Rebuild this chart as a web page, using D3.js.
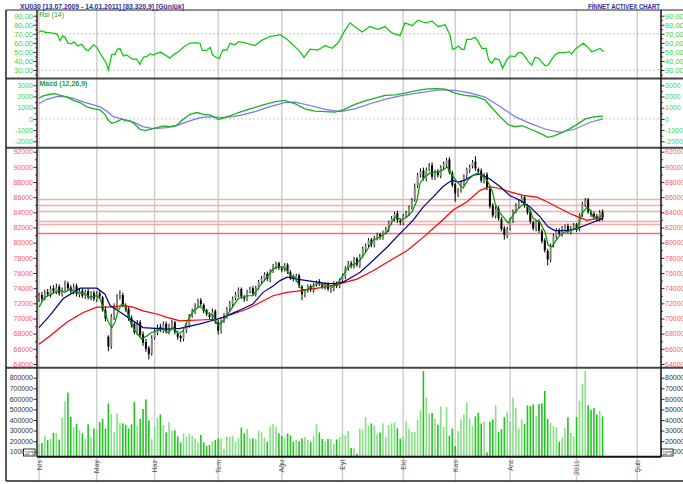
<!DOCTYPE html>
<html>
<head>
<meta charset="utf-8">
<script src="https://cdn.jsdelivr.net/npm/d3@7"></script>
<style>
  body { margin: 0; background: #fff; }
  svg { display: block; font-family: 'Liberation Sans', Arial, sans-serif; }
</style>
</head>
<body>
<div id="chart"></div>
<script>
// month labels and the trading-day index where each month starts
const months = ['Nis', 'May', 'Haz', 'Tem', 'Ağu', 'Eyl', 'Eki', 'Kas', 'Ara', '2011', 'Şub'];
const monthStart = [0, 20, 40, 62, 84, 105, 126, 144, 163, 186, 207];

// daily prices, in thousands
const openP = [
  72.5,73.1,72.7,73.5,73.1,74.0,73.5,74.2,73.2,73.9, 74.6,74.1,73.5,74.3,73.1,73.7,72.9,73.6,72.7,73.4,
  72.5,73.3,72.8,71.1,67.6,66.4,70.1,71.5,72.9,73.1, 71.7,71.3,70.1,69.3,68.1,69.5,67.9,66.9,66.1,65.4,
  67.5,68.1,68.9,68.4,69.3,68.2,68.9,69.5,68.1,67.7, 67.3,68.4,69.1,70.4,70.9,71.7,72.4,71.8,71.1,70.5,
  70.1,71.0,69.5,68.3,69.7,70.3,71.3,71.9,72.7,73.1, 73.9,72.8,72.5,73.6,74.0,73.2,74.1,74.9,75.2,75.9,
  75.1,76.3,76.8,77.3,76.6,76.5,77.1,76.1,75.5,75.1, 75.7,74.2,73.1,73.7,74.3,73.7,74.5,74.9,74.5,74.1,
  74.6,73.8,73.9,74.7,74.2,75.1,75.5,76.7,77.3,76.9, 77.9,77.0,78.3,79.1,79.7,80.4,79.7,80.7,81.1,80.7,
  81.4,81.7,82.7,83.1,83.9,82.9,82.6,83.6,83.8,84.7, 85.7,87.5,89.0,89.5,88.4,89.7,90.2,88.6,89.4,88.8,
  90.0,90.3,91.0,89.2,87.7,86.4,86.9,87.8,88.8,89.5, 90.1,90.7,89.7,89.5,88.1,89.0,87.1,84.9,83.5,84.5,
  83.1,81.9,80.9,81.9,82.9,84.2,84.8,85.5,86.0,84.8, 84.1,82.7,81.8,82.8,81.5,80.3,78.9,77.7,79.7,80.8,
  81.7,81.1,82.0,82.2,81.4,82.0,82.4,81.8,83.7,85.0, 85.7,84.0,83.8,83.5,83.0,84.1
];
const highP = [
  73.4,73.5,73.8,73.9,74.3,74.4,74.6,74.5,74.1,75.0, 74.9,74.4,74.6,74.6,73.9,74.0,73.8,73.9,73.6,73.7,
  73.6,73.6,73.0,71.6,67.8,70.6,72.0,73.2,73.7,73.4, 72.0,71.5,70.4,69.6,69.8,69.8,68.3,67.3,66.4,67.8,
  68.6,69.2,69.3,69.6,69.6,69.3,69.8,69.7,68.4,67.9, 68.7,69.5,70.6,71.3,72.0,72.6,72.7,72.0,71.3,70.8,
  71.3,71.2,69.8,69.9,70.7,71.5,72.3,72.9,73.5,74.1, 74.1,73.1,73.8,74.2,74.3,74.3,75.1,75.6,76.1,76.2,
  76.5,77.2,77.5,77.5,76.9,77.3,77.3,76.4,75.8,75.9, 75.9,74.4,73.9,74.5,74.5,74.7,75.0,75.2,74.8,74.8,
  74.8,74.1,74.9,74.9,75.3,75.9,76.9,77.6,77.6,78.1, 78.1,78.5,79.5,79.9,80.6,80.6,80.9,81.3,81.3,81.6,
  82.1,82.9,83.5,84.1,84.2,83.2,83.8,84.2,84.9,85.9, 87.8,89.2,89.8,89.9,89.9,90.5,90.6,89.6,89.7,90.2,
  90.7,91.2,91.3,89.5,87.9,87.2,88.2,89.0,89.9,90.3, 90.9,91.4,89.9,89.8,89.2,89.3,87.4,85.2,84.8,84.8,
  83.4,82.2,82.1,83.3,84.4,85.2,85.7,86.2,86.3,85.1, 84.4,82.9,83.0,83.1,81.8,80.6,79.2,79.9,81.2,81.9,
  81.9,82.2,82.4,82.5,82.2,82.6,82.6,83.9,85.4,85.9, 85.9,84.3,84.1,83.8,84.3,84.4
];
const lowP = [
  72.2,72.3,72.4,72.9,72.8,73.3,73.2,73.0,72.9,73.6, 73.7,73.3,73.2,72.9,72.8,72.7,72.6,72.5,72.4,72.3,
  72.2,72.6,70.9,69.6,65.7,66.0,69.8,71.2,72.5,71.5, 70.9,69.7,68.8,67.9,67.8,67.4,66.4,65.6,64.6,65.1,
  67.2,67.8,68.2,68.1,68.0,67.9,68.6,67.9,67.2,66.9, 67.0,68.1,68.8,70.1,70.6,71.4,71.6,70.7,70.3,69.9,
  69.8,69.3,67.9,68.0,69.4,70.0,71.0,71.6,72.4,72.8, 72.6,72.2,72.3,73.3,73.0,72.9,73.8,74.6,74.9,74.9,
  74.8,76.0,76.5,76.4,76.1,76.2,75.9,75.1,74.9,74.8, 74.0,72.4,72.8,73.4,73.5,73.4,74.2,74.3,73.9,73.8,
  73.6,73.4,73.6,74.0,74.0,74.8,75.2,76.3,76.6,76.6, 76.8,76.7,78.0,78.8,79.4,79.4,79.4,80.3,80.4,80.4,
  81.1,81.4,82.4,82.8,82.6,82.3,82.3,83.3,83.5,84.4, 85.4,87.2,88.6,88.2,88.1,89.4,88.3,88.3,88.6,88.5,
  89.6,90.0,89.0,87.3,85.4,86.0,86.6,87.5,88.5,89.2, 89.8,89.5,89.1,87.9,87.8,86.9,84.5,83.3,83.2,82.9,
  81.5,80.4,80.6,81.6,82.6,83.9,84.5,85.2,84.6,83.7, 82.5,81.6,81.5,81.3,79.9,78.7,77.0,77.4,79.4,80.5,
  80.9,80.8,81.7,81.2,81.1,81.7,81.4,81.5,83.4,84.7, 83.8,83.4,83.1,82.8,82.8,82.9
];
const closeP = [
  73.0,72.6,73.4,73.2,73.9,73.6,74.1,73.3,73.8,74.5, 74.0,73.6,74.2,73.2,73.6,73.0,73.5,72.8,73.3,72.6,
  73.2,72.9,71.2,70.0,66.3,70.2,71.6,72.8,73.0,71.8, 71.2,70.0,69.2,68.2,69.4,67.8,66.8,66.0,65.3,67.4,
  68.2,68.8,68.5,69.2,68.3,68.9,69.4,68.2,67.6,67.4, 68.3,69.2,70.3,71.0,71.6,72.3,71.9,71.0,70.6,70.2,
  70.9,69.6,68.4,69.6,70.4,71.2,72.0,72.6,73.2,73.8, 72.9,72.6,73.5,73.9,73.3,74.0,74.8,75.3,75.8,75.2,
  76.2,76.9,77.2,76.7,76.4,77.0,76.2,75.4,75.2,75.6, 74.3,73.2,73.6,74.2,73.8,74.4,74.8,74.6,74.2,74.5,
  73.9,73.8,74.6,74.3,75.0,75.6,76.6,77.2,77.0,77.8, 77.1,78.2,79.2,79.6,80.3,79.8,80.6,81.0,80.8,81.3,
  81.8,82.6,83.2,83.8,83.0,82.7,83.5,83.9,84.6,85.6, 87.4,88.9,89.4,88.5,89.6,90.1,88.7,89.3,88.9,89.9,
  90.4,90.9,89.3,87.6,86.5,86.8,87.9,88.7,89.6,90.0, 90.6,89.8,89.4,88.2,88.9,87.2,84.8,83.6,84.4,83.2,
  81.8,81.0,81.8,83.0,84.1,84.9,85.4,85.9,84.9,84.0, 82.8,81.9,82.7,81.6,80.2,79.0,77.8,79.6,80.9,81.6,
  81.2,81.9,82.1,81.5,81.9,82.3,81.7,83.6,85.1,85.6, 84.1,83.7,83.4,83.1,84.0,83.3
];

// daily volume, in thousands
const volume = [
  172,182,251,210,220,277,277,214,422,576,658,428,333,362,305,273,223,359,242,320,
  311,380,412,318,557,456,286,463,371,368,355,320,359,570,346,410,504,595,396,220,
  343,422,453,352,283,378,299,302,245,188,270,239,270,251,226,188,258,188,154,163,200,210,
  226,226,125,242,242,248,195,226,327,273,314,226,226,220,299,283,232,195,340,362,337,273,
  248,229,273,255,195,213,200,226,239,213,192,251,359,283,220,200,220,220,172,216,236,
  267,255,296,135,135,81,320,311,428,346,368,346,267,280,368,242,352,368,378,320,223,
  242,387,320,286,286,400,494,863,617,460,466,410,355,529,333,523,251,318,
  154,296,406,453,567,415,343,434,469,368,384,94,384,406,539,286,314,428,472,
  384,611,517,320,406,362,539,532,548,441,551,558,674,410,371,343,333,195,232,324,425,277,245,
  428,583,740,863,539,498,514,451,486,434
];

// moving averages: [day index, price in thousands]
const maShort = [
  [0,71.5],[2,72.8],[5.5,73.45],[7.3,73.7],[9,73.45],[10.7,73.9],[13,73.45],[15.9,73.25],[17.6,72.8],[20,73.0],
  [21.1,72.6],[22.8,70.8],[24,69.5],[25.2,68.8],[26.3,69.5],[27.4,71.0],[28.6,71.9],[29.8,71.7],[31.5,69.7],[33.2,68.4],
  [35.5,67.3],[37.3,67.7],[39,68.15],[40.7,68.4],[43,68.6],[44.7,68.15],[46.5,68.8],[48.2,67.95],[49.9,68.4],[51.1,69.5],
  [53.4,71.0],[55.7,71.6],[58.1,70.8],[60.2,70.4],[61.9,69.05],[63.7,69.7],[66.1,71.0],[68.9,72.6],[72,73.0],[74,73.0],
  [76.5,74.35],[78.9,75.45],[81,76.55],[82.7,76.8],[84.4,76.8],[85.8,76.35],[86.9,75.7],[88.6,75.45],[90.3,74.1],[92,73.7],
  [93.8,74.1],[96.2,74.55],[98.3,74.55],[101.4,74.1],[103.1,74.55],[104.8,75.45],[106.9,76.8],[109.3,77.2],[111.1,77.7],[113.5,79.0],
  [115.6,80.35],[118,80.75],[120.4,81.4],[121.5,82.3],[123.2,83.4],[125.6,83.0],[127.3,83.4],[129.1,84.1],[130.8,85.6],[131.8,87.85],
  [133.6,88.7],[135.3,89.2],[138.1,89.35],[139.8,89.6],[141.2,90.0],[143.3,88.7],[145,87.85],[146.7,87.2],[148.4,88.25],[150.2,88.9],
  [151.9,89.2],[155,88.25],[156.7,86.95],[157.8,85.2],[158.8,84.3],[160.6,83.4],[162.3,82.6],[164.7,84.05],[167.1,84.95],[168.2,85.2],
  [169.9,84.3],[170.9,83.25],[173.4,82.6],[175.1,81.4],[176.1,79.7],[177.5,79.45],[178.5,80.1],[180.3,81.0],[182,81.4],[184.4,81.65],
  [186.2,81.9],[187.9,83.9],[189.6,84.7],[190.7,84.3],[191.7,83.4],[193.4,83.25],[195,83.65]
];
const maMid = [
  [0,68.8],[3.8,70.4],[8.3,72.6],[14.2,74.0],[20,74.0],[22.8,73.2],[24.6,71.7],[26.3,71.3],[29.8,70.4],[36,68.8],
  [44.3,68.6],[48.8,68.7],[55.7,69.3],[61.5,69.9],[63.7,70.15],[68.9,71.0],[74,71.9],[77.5,73.45],[81,74.3],[83.4,75.0],
  [85.8,75.45],[89.3,75.2],[92.7,75.0],[96.2,74.8],[99.7,74.6],[102.4,74.6],[105.2,74.8],[107.6,75.3],[111.1,76.1],[115.6,77.65],
  [120.4,79.4],[124.9,81.2],[129.4,82.95],[132.9,84.7],[136.3,86.0],[139.8,87.4],[142.9,88.25],[145,88.0],[147.4,88.25],[150.2,88.9],
  [152.6,89.05],[156,88.4],[159.5,87.4],[163,86.2],[166.4,85.6],[169.9,84.7],[173.4,83.4],[176.1,82.1],[178.5,81.6],[182.7,81.6],
  [186.2,81.85],[189,82.3],[191.7,82.7],[195.2,83.2]
];
const maLong = [
  [0,66.6],[3.8,67.7],[9.6,69.5],[15.3,70.8],[20,71.5],[24.6,71.5],[29.1,71.7],[32.5,71.5],[36,71.0],[40.8,70.6],
  [44.3,70.15],[48.8,69.7],[52.2,69.75],[55.7,69.8],[61.6,69.9],[67.1,70.6],[72,71.25],[76.5,72.1],[81,73.0],[85.8,73.45],
  [89.3,73.6],[94.8,73.9],[99.7,74.2],[104.2,74.6],[110,75.2],[115.6,76.3],[121.5,77.65],[127.3,78.95],[132.9,80.7],[138.8,82.7],
  [143.3,84.3],[148.1,85.4],[152.6,86.9],[156,87.4],[159.5,87.15],[163,86.7],[167.5,86.25],[172.3,86.0],[175.8,85.4],[179.2,84.7],
  [183.7,83.85],[186.5,83.4],[189.6,82.95],[191.7,83.1],[195.2,83.2]
];

// horizontal price levels, in thousands
const levels = [85.7, 84.9, 84.1, 82.8, 82.4, 81.2];

// RSI (14): [day index, value]
const rsi = [
  [0,71.7],[0.9,73.4],[2.1,71.7],[3.2,71.3],[5.5,70.5],[6.3,69.4],[7.3,62.4],[8.2,67.6],[9,66.1],[10.1,59.5],
  [11.3,59.2],[12.1,61.3],[13.3,56.5],[14.8,58.4],[16.3,52.1],[17.1,51.4],[18.8,57.8],[20,55.0],[21.7,45.5],[23.2,38.1],
  [24,30.0],[25.2,47.3],[26.3,47.3],[27.1,52.9],[28,53.9],[29.2,45.5],[30.3,46.6],[31.7,43.6],[32.6,41.8],[33.8,42.0],
  [34.9,36.3],[36.1,44.0],[37.3,45.0],[38.4,47.7],[39.6,46.4],[40.7,48.4],[42.1,49.8],[43.6,46.7],[45.3,43.1],[46.5,46.7],
  [48.2,50.2],[50.5,56.5],[52.2,59.5],[54,60.2],[55.7,59.5],[56.5,51.6],[58,51.6],[59.2,55],[60.1,46.6],[61.5,43.6],
  [62.4,42.9],[63.6,52.1],[65,52],[66.1,59.5],[67.8,57.8],[69,61.3],[71.3,60],[74.7,57],[77.2,63],[79.9,67],
  [83.4,69],[85.8,64],[87.9,58],[90.3,50],[91.7,44],[93.8,53],[96.5,52],[99,57],[101.4,54],[103.5,60],
  [105.9,74],[107.6,82],[109.7,77],[111.8,72],[114.5,78],[117.3,75],[119.7,78],[122.1,71],[124.9,68],[126.6,82],
  [129.1,79],[131.1,85],[133.6,82],[136,84],[138,78],[140.5,80],[142.2,68.7],[143.1,52.9],[144.3,54.4],[145.1,56.5],
  [146.3,52.9],[147.1,52.9],[148,63.9],[149.4,63.9],[150.9,66.1],[152,61.3],[153.2,54],[154.7,54],[155.5,41.8],[156.6,37.4],
  [157.8,42.9],[159.3,41.1],[160.4,31.9],[161.8,41.1],[163,45.5],[164.7,44.8],[165.8,49.1],[167,49.1],[168.2,44.8],[169.3,39.2],
  [170.5,35.5],[171.6,44],[172.8,43],[173.9,39.2],[175.1,34.7],[176.2,35.5],[177.4,41.8],[178.5,46.6],[179.7,49.1],[182,49.1],
  [183.5,50.2],[184.3,47.7],[185.5,52.9],[186.6,55.8],[188.3,59.5],[189.7,55.8],[191.2,50.2],[193,52.1],[194.1,54],[195.3,50.2]
];

// MACD (12,26,9) and its signal line: [day index, value]
const macd = [
  [0,1850],[1.5,2060],[3.8,2200],[5.5,2250],[7.3,2100],[9.6,1960],[11.9,1660],[14.2,1460],[16.5,1070],[18.8,920],
  [21.1,800],[22.8,410],[24,-120],[25.2,-390],[26.9,-240],[28.6,-30],[30.1,-180],[31.5,-180],[33.2,-480],[34.9,-930],
  [36.7,-1020],[38.4,-930],[40.7,-780],[43,-630],[45.3,-700],[47.6,-570],[49.9,-30],[52.2,410],[54.6,570],[56.9,410],
  [59.2,360],[60.9,120],[62,-60],[63.8,60],[66.1,270],[69,570],[73,900],[77,1200],[81.7,1550],[85,1650],
  [88.6,1350],[92,900],[95.5,700],[99,650],[102.4,600],[105.2,800],[109.3,1300],[112.8,1600],[116.3,1850],[119.7,2100],
  [123.2,2150],[126.6,2300],[130.1,2500],[133.6,2650],[137,2700],[140.5,2650],[144,2300],[147.4,2100],[150.9,2000],[154.3,1700],
  [156.7,1000],[159.5,200],[162.3,-500],[164.7,-700],[167.1,-600],[169.9,-900],[173.4,-1300],[176.1,-1650],[178.5,-1500],[182,-1100],
  [185.5,-600],[189,0],[192.4,200],[195.2,250]
];
const macdSignal = [
  [0,1370],[2.7,1750],[6.1,1990],[9,1990],[11.9,1840],[15.3,1520],[18.8,1250],[21.1,1070],[23.4,710],[25.7,200],
  [29.2,-30],[32.6,-270],[36.1,-710],[39.6,-870],[44.2,-780],[47.6,-600],[51.1,-270],[55.7,120],[59.2,200],[62.6,120],
  [67.2,200],[69.6,320],[74.7,650],[79.9,1100],[85,1450],[88.6,1500],[93.8,1200],[99,850],[104.2,650],[109.3,900],
  [114.5,1350],[119.7,1750],[124.9,2050],[131.8,2350],[138.8,2600],[144,2550],[149.4,2300],[154.3,1950],[159.5,1100],[164.7,200],
  [169.9,-400],[175.1,-900],[180.3,-1200],[185.5,-900],[190.7,-300],[195.2,0]
];

// axis tick values
const rsiTicks = [30, 40, 50, 60, 70, 80, 90];
const macdTicks = [-2000, -1000, 0, 1000, 2000, 3000];
const priceTicks = d3.range(64, 93, 2);
const volTicks = [100, 200, 300, 400, 500, 600, 700, 800];

const W = 683, H = 484;
const xL = 37, xR = 661;
const panels = {
    rsi:   { top: 10.5, bottom: 78 },
    macd:  { top: 79.5, bottom: 147 },
    price: { top: 148.5, bottom: 367 },
    vol:   { top: 368.5, bottom: 456 }
};

const svg = d3.select('#chart').append('svg')
    .attr('width', W)
    .attr('height', H);

// scales
const x = d3.scaleLinear().domain([0, 195]).range([39, 602.6]);
const yRsi = d3.scaleLinear().domain([30, 90]).range([70, 15.7]);
const yMacd = d3.scaleLinear().domain([-2000, 3000]).range([141.3, 85.3]);
const yPrice = d3.scaleLinear().domain([64, 92]).range([364, 151.7]);
const yVol = d3.scaleLinear().domain([100, 800]).range([451.7, 377.7]);

// clip paths for each panel
const defs = svg.append('defs');
Object.entries(panels).forEach(([k, p]) => {
    defs.append('clipPath').attr('id', 'clip-' + k)
        .append('rect')
        .attr('x', xL).attr('y', p.top)
        .attr('width', xR - xL).attr('height', p.bottom - p.top);
});

// month grid lines
svg.append('g').selectAll('line')
    .data(monthStart)
    .join('line')
    .attr('x1', d => x(d)).attr('x2', d => x(d))
    .attr('y1', 10).attr('y2', 481)
    .attr('stroke', '#cfcfcf')
    .attr('stroke-width', 1.5);

// dotted reference lines
const refLines = [
    { y: yRsi(70) }, { y: yRsi(30) }, { y: yMacd(0) }
];
svg.append('g').selectAll('line')
    .data(refLines)
    .join('line')
    .attr('x1', xL).attr('x2', xR)
    .attr('y1', d => d.y).attr('y2', d => d.y)
    .attr('stroke', '#c4c4c4')
    .attr('stroke-dasharray', '2,2');

// ---- RSI panel
const rsiG = svg.append('g').attr('clip-path', 'url(#clip-rsi)');
rsiG.append('path')
    .datum(rsi)
    .attr('fill', 'none')
    .attr('stroke', '#14c814')
    .attr('stroke-width', 1.3)
    .attr('d', d3.line().x(d => x(d[0])).y(d => yRsi(d[1])));

// ---- MACD panel
const macdG = svg.append('g').attr('clip-path', 'url(#clip-macd)');
macdG.append('path')
    .datum(macdSignal)
    .attr('fill', 'none')
    .attr('stroke', '#7878f0')
    .attr('stroke-width', 1.2)
    .attr('d', d3.line().x(d => x(d[0])).y(d => yMacd(d[1])));
macdG.append('path')
    .datum(macd)
    .attr('fill', 'none')
    .attr('stroke', '#18b418')
    .attr('stroke-width', 1.3)
    .attr('d', d3.line().x(d => x(d[0])).y(d => yMacd(d[1])));

// ---- price panel
const priceG = svg.append('g').attr('clip-path', 'url(#clip-price)');
priceG.selectAll('line.level')
    .data(levels)
    .join('line')
    .attr('class', 'level')
    .attr('x1', xL).attr('x2', xR)
    .attr('y1', d => yPrice(d)).attr('y2', d => yPrice(d))
    .attr('stroke', (d, i) => i === levels.length - 1 ? '#ee7272' : '#f7aaaa')
    .attr('stroke-width', 1.5);

const days = d3.range(closeP.length);
priceG.selectAll('line.wick')
    .data(days)
    .join('line')
    .attr('class', 'wick')
    .attr('x1', i => x(i)).attr('x2', i => x(i))
    .attr('y1', i => yPrice(highP[i])).attr('y2', i => yPrice(lowP[i]))
    .attr('stroke', '#000')
    .attr('stroke-width', 1);
priceG.selectAll('rect.body')
    .data(days)
    .join('rect')
    .attr('class', 'body')
    .attr('x', i => x(i) - 1)
    .attr('width', 2)
    .attr('y', i => yPrice(Math.max(openP[i], closeP[i])))
    .attr('height', i => Math.max(1, Math.abs(yPrice(openP[i]) - yPrice(closeP[i]))))
    .attr('fill', i => closeP[i] >= openP[i] ? '#8a8a8a' : '#000');

const maLine = d3.line().x(d => x(d[0])).y(d => yPrice(d[1]));
[
    { data: maLong, color: '#ff0000' },
    { data: maMid, color: '#000080' },
    { data: maShort, color: '#009400' }
].forEach(s => {
    priceG.append('path')
        .datum(s.data)
        .attr('fill', 'none')
        .attr('stroke', s.color)
        .attr('stroke-width', 1.2)
        .attr('d', maLine);
});

// ---- volume panel
const volG = svg.append('g').attr('clip-path', 'url(#clip-vol)');
volG.selectAll('rect')
    .data(days)
    .join('rect')
    .attr('x', i => x(i) - 0.8)
    .attr('width', 1.6)
    .attr('y', i => yVol(volume[i]))
    .attr('height', i => panels.vol.bottom - yVol(volume[i]))
    .attr('fill', i => closeP[i] >= openP[i] ? '#86e086' : '#22c422');

// ---- axes
function drawAxis(scale, side, ticks, minor, fmt, color, size) {
    const xPos = side === 'left' ? xL : xR;
    const make = () => side === 'left' ? d3.axisLeft(scale) : d3.axisRight(scale);
    if (minor) {
        const m = svg.append('g')
            .attr('transform', `translate(${xPos},0)`)
            .call(make().tickValues(minor).tickSize(2).tickFormat(''));
        m.select('.domain').remove();
        m.selectAll('line').attr('stroke', '#444');
    }
    const g = svg.append('g')
        .attr('transform', `translate(${xPos},0)`)
        .call(make().tickValues(ticks).tickSize(3.5).tickPadding(0.5).tickFormat(fmt));
    g.select('.domain').remove();
    g.selectAll('line').attr('stroke', '#333');
    g.selectAll('text')
        .attr('fill', color)
        .style('font-size', size + 'px')
        .style('font-family', "'Liberation Sans', Arial, sans-serif");
}

const rsiFmt = d => d3.format('.2f')(d).replace('.', ',');
const plainFmt = d => String(d);
const priceFmt = d => String(d * 1000);
const volFmt = d => String(d * 1000);
const rsiMinor = d3.range(25, 95, 5).filter(v => v % 10 !== 0 && v > 22);
const priceMinor = d3.range(65, 92, 2);
const macdMinor = [-1500, -500, 500, 1500, 2500];

['left', 'right'].forEach(side => {
    drawAxis(yRsi, side, rsiTicks, rsiMinor, rsiFmt, '#46d246', 7.5);
    drawAxis(yMacd, side, macdTicks, macdMinor, plainFmt, '#46d246', 7);
    drawAxis(yPrice, side, priceTicks, priceMinor, priceFmt, '#ff5a5a', 7);
    drawAxis(yVol, side, volTicks, null, volFmt, '#333', 7);
});

// panel separators and frame
const hLines = [
    { y: 10, w: 1, c: '#222', x1: 6, x2: W },
    { y: 78.5, w: 2, c: '#444', x1: 6, x2: W },
    { y: 147.8, w: 2, c: '#444', x1: 6, x2: W },
    { y: 367.8, w: 2, c: '#444', x1: 6, x2: W },
    { y: 456.8, w: 2, c: '#111', x1: xL, x2: xR },
    { y: 481, w: 1.5, c: '#222', x1: 6, x2: W }
];
svg.append('g').selectAll('line')
    .data(hLines)
    .join('line')
    .attr('x1', d => d.x1).attr('x2', d => d.x2)
    .attr('y1', d => d.y).attr('y2', d => d.y)
    .attr('stroke', d => d.c)
    .attr('stroke-width', d => d.w);

const vLines = [
    { x: 6, y1: 10, y2: 481, w: 1.5, c: '#222' },
    { x: xL, y1: 10, y2: 457, w: 1.5, c: '#2a1a1a' },
    { x: xR, y1: 10, y2: 457, w: 1.5, c: '#111' }
];
svg.append('g').selectAll('line')
    .data(vLines)
    .join('line')
    .attr('x1', d => d.x).attr('x2', d => d.x)
    .attr('y1', d => d.y1).attr('y2', d => d.y2)
    .attr('stroke', d => d.c)
    .attr('stroke-width', d => d.w);

// volume unit boxes
[{ x: 23.5 }, { x: 661.5 }].forEach(b => {
    svg.append('rect')
        .attr('x', b.x).attr('y', 449)
        .attr('width', 11.5).attr('height', 7)
        .attr('fill', '#fff')
        .attr('stroke', '#000')
        .attr('stroke-width', 0.8);
    svg.append('text')
        .attr('x', b.x + 5.75).attr('y', 454.5)
        .attr('text-anchor', 'middle')
        .style('font-size', '4.5px')
        .attr('fill', '#333')
        .text('10^5');
});

// month labels
svg.append('g').selectAll('text')
    .data(months)
    .join('text')
    .attr('transform', (d, i) => `translate(${x(monthStart[i]) + 2.5},460) rotate(-90)`)
    .attr('text-anchor', 'end')
    .style('font-size', '7px')
    .attr('fill', '#555')
    .text(d => d);

// titles
svg.append('text')
    .attr('x', 20).attr('y', 8.5)
    .attr('textLength', 164)
    .attr('lengthAdjust', 'spacingAndGlyphs')
    .style('font-size', '7.5px')
    .style('font-weight', 'bold')
    .attr('fill', '#2e2e9a')
    .text('XU030 [13.07.2009 - 14.01.2011] [83.320,9] [Günlük]');
svg.append('text')
    .attr('x', 588).attr('y', 8.5)
    .attr('textLength', 72)
    .attr('lengthAdjust', 'spacingAndGlyphs')
    .style('font-size', '7.5px')
    .style('font-weight', 'bold')
    .attr('fill', '#2e2e9a')
    .text('FİNNET ACTIVEX CHART');
svg.append('text')
    .attr('x', 39.5).attr('y', 17)
    .style('font-size', '7px')
    .attr('fill', '#2a9a2a')
    .text('Rsi (14)');
svg.append('text')
    .attr('x', 39.5).attr('y', 86)
    .style('font-size', '7px')
    .style('font-weight', 'bold')
    .attr('fill', '#22a222')
    .text('Macd (12,26,9)');
</script>
</body>
</html>
